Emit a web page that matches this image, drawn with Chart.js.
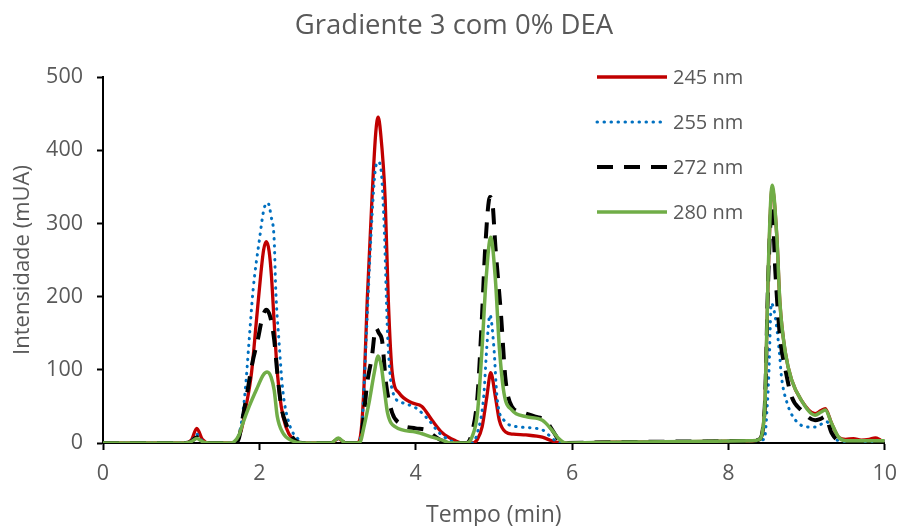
<!DOCTYPE html>
<html>
<head>
<meta charset="utf-8">
<script src="https://cdn.jsdelivr.net/npm/chart.js@4.4.1/dist/chart.umd.min.js"></script>
<style>
  html, body { margin: 0; padding: 0; background: #ffffff; }
  #wrap { width: 908px; height: 526px; }
</style>
</head>
<body>
<div id="wrap"><canvas id="chart" width="908" height="526"></canvas></div>
<script>
// Chromatogram: time (min) and absorbance (mUA) for each detection wavelength
const seriesLabels = ['245 nm', '255 nm', '272 nm', '280 nm'];

const tempo245 = [0, 1.05, 1.13, 1.2, 1.27, 1.36, 1.68, 1.72, 1.77, 1.83, 1.9, 1.96, 2.02, 2.055, 2.09, 2.125, 2.155, 2.19, 2.23, 2.28, 2.34, 2.43, 2.55,
  2.92, 3.01, 3.1, 3.25, 3.28, 3.31, 3.34, 3.38, 3.44, 3.49, 3.52, 3.55, 3.61, 3.65, 3.7, 3.79, 3.95, 4.08, 4.21, 4.34, 4.51, 4.6,
  4.72, 4.79, 4.85, 4.91, 4.96, 5.02, 5.07, 5.15, 5.25, 5.41, 5.62, 5.74, 5.85, 6.5, 7.5, 8.3,
  8.4, 8.44, 8.47, 8.51, 8.56, 8.62, 8.66, 8.73, 8.81, 8.93, 9.11, 9.18, 9.24, 9.32, 9.41, 9.5, 9.6, 9.7, 9.8, 9.88, 9.95];
const int245 = [0, 0, 4, 20, 5, 0, 0, 5, 18, 50, 96, 164, 232, 264, 275, 262, 228, 164, 96, 50, 22, 5, 0,
  0, 6, 0, 0, 3, 25, 80, 195, 332, 425, 445, 425, 332, 195, 96, 68, 55, 50, 31, 14, 3, 0,
  0, 5, 22, 63, 96, 63, 31, 15, 12, 11, 8, 3, 0, 1, 2, 3,
  5, 18, 60, 230, 348, 282, 191, 123, 86, 59, 40, 44, 47, 27, 8, 5, 6, 4, 5, 7, 4];

const tempo255 = [0, 1.05, 1.13, 1.2, 1.27, 1.36, 1.67, 1.72, 1.77, 1.82, 1.87, 1.92, 2.0, 2.06, 2.11, 2.15, 2.19, 2.21, 2.25, 2.3, 2.38, 2.5, 2.6,
  2.92, 3.01, 3.1, 3.25, 3.29, 3.32, 3.37, 3.43, 3.48, 3.52, 3.56, 3.6, 3.64, 3.7, 3.83, 4.0, 4.17, 4.3, 4.43, 4.55,
  4.72, 4.79, 4.87, 4.91, 4.95, 5.0, 5.04, 5.13, 5.32, 5.62, 5.7, 5.79, 5.9, 6.5, 7.5, 8.3,
  8.46, 8.5, 8.52, 8.55, 8.6, 8.65, 8.68, 8.75, 8.86, 9.02, 9.11, 9.26, 9.35, 9.42, 9.55, 10];
const int255 = [0, 0, 3, 12, 3, 0, 0, 5, 27, 72, 141, 209, 277, 320, 328, 310, 277, 209, 141, 72, 27, 5, 0,
  0, 6, 0, 0, 5, 36, 150, 287, 370, 384, 370, 287, 150, 72, 55, 48, 31, 14, 4, 0,
  0, 14, 63, 131, 175, 131, 63, 31, 22, 18, 11, 3, 0, 1, 2, 3,
  5, 55, 100, 191, 172, 127, 90, 55, 31, 22, 22, 29, 8, 3, 2, 2];

const tempo272 = [0, 1.05, 1.13, 1.2, 1.27, 1.36, 1.69, 1.74, 1.79, 1.85, 1.91, 1.98, 2.04, 2.09, 2.14, 2.19, 2.23, 2.28, 2.34, 2.43, 2.55,
  2.92, 3.01, 3.1, 3.25, 3.3, 3.33, 3.38, 3.44, 3.49, 3.53, 3.57, 3.62, 3.7, 3.79, 4.0, 4.13, 4.26, 4.34, 4.45,
  4.65, 4.72, 4.79, 4.85, 4.89, 4.95, 4.98, 5.02, 5.09, 5.15, 5.23, 5.36, 5.53, 5.66, 5.77, 5.83, 5.92, 6.5, 7.5, 8.3,
  8.4, 8.44, 8.47, 8.51, 8.56, 8.6, 8.66, 8.73, 8.81, 8.93, 9.11, 9.18, 9.24, 9.32, 9.42, 9.6, 10];
const int272 = [0, 0, 2, 8, 2, 0, 0, 7, 36, 72, 109, 141, 172, 182, 172, 141, 96, 50, 27, 7, 0,
  0, 5, 0, 0, 6, 31, 82, 118, 157, 150, 140, 82, 41, 27, 20, 18, 8, 3, 0,
  0, 14, 63, 177, 268, 336, 330, 268, 177, 86, 50, 42, 36, 31, 14, 4, 0, 1, 2, 3,
  5, 18, 60, 225, 325, 236, 145, 100, 63, 45, 31, 33, 36, 14, 3, 2, 2];

const tempo280 = [0, 1.05, 1.13, 1.2, 1.27, 1.36, 1.64, 1.68, 1.74, 1.79, 1.87, 1.98, 2.05, 2.1, 2.15, 2.19, 2.23, 2.3, 2.42, 2.55,
  2.92, 3.01, 3.1, 3.26, 3.3, 3.33, 3.41, 3.47, 3.52, 3.56, 3.6, 3.64, 3.74, 4.0, 4.21, 4.34, 4.45,
  4.65, 4.72, 4.79, 4.85, 4.9, 4.96, 5.02, 5.07, 5.13, 5.23, 5.41, 5.62, 5.74, 5.83, 5.92, 6.5, 7.5, 8.3,
  8.4, 8.44, 8.47, 8.51, 8.56, 8.62, 8.66, 8.73, 8.81, 8.93, 9.11, 9.18, 9.24, 9.32, 9.41, 9.5, 10];
const int280 = [0, 0, 2, 6, 2, 0, 0, 2, 11, 27, 50, 77, 93, 97, 90, 72, 36, 14, 3, 0,
  0, 7, 0, 0, 4, 18, 59, 96, 119, 105, 72, 41, 22, 15, 8, 4, 0,
  0, 8, 41, 131, 223, 281, 223, 131, 68, 45, 36, 31, 18, 6, 0, 1, 2, 3,
  5, 18, 60, 236, 352, 282, 191, 123, 86, 59, 38, 42, 45, 27, 8, 3, 3];

const xTicks = [0, 2, 4, 6, 8, 10];
const yTicks = [0, 100, 200, 300, 400, 500];

function toPoints(ts, vs) {
  return ts.map((t, i) => ({ x: t, y: vs[i] }));
}

const FONT = "'Open Sans', 'DejaVu Sans', sans-serif";
const TEXT = '#595959';

const datasets = [
  { label: seriesLabels[0], data: toPoints(tempo245, int245), borderColor: '#C00000', borderWidth: 3.3, order: 4 },
  { label: seriesLabels[1], data: toPoints(tempo255, int255), borderColor: '#0070C0', borderWidth: 3,
    borderDash: [0.5, 6.5], borderCapStyle: 'round', order: 3 },
  { label: seriesLabels[2], data: toPoints(tempo272, int272), borderColor: '#000000', borderWidth: 4,
    borderDash: [16, 11], order: 2 },
  { label: seriesLabels[3], data: toPoints(tempo280, int280), borderColor: '#70AD47', borderWidth: 3.5, order: 1 }
];

// Legend drawn inside the plot area, top right
const insideLegend = {
  id: 'insideLegend',
  afterDraw(chart) {
    const { ctx } = chart;
    const x0 = 597, x1 = 667, y0 = 77, step = 45;
    ctx.save();
    chart.data.datasets.forEach((ds, i) => {
      const y = y0 + i * step;
      ctx.beginPath();
      ctx.strokeStyle = ds.borderColor;
      ctx.lineWidth = ds.borderWidth;
      ctx.lineCap = ds.borderCapStyle || 'butt';
      ctx.setLineDash(ds.borderDash || []);
      ctx.moveTo(x0, y);
      ctx.lineTo(x1, y);
      ctx.stroke();
      ctx.setLineDash([]);
      ctx.fillStyle = TEXT;
      ctx.font = "20px " + FONT;
      ctx.textAlign = 'left';
      ctx.textBaseline = 'middle';
      ctx.fillText(ds.label, 673, y + 1);
    });
    ctx.restore();
  }
};

new Chart(document.getElementById('chart'), {
  type: 'line',
  data: { datasets },
  options: {
    responsive: false,
    animation: false,
    layout: { padding: 0 },
    elements: {
      point: { radius: 0, hoverRadius: 0 },
      line: { cubicInterpolationMode: 'monotone', fill: false }
    },
    plugins: {
      legend: { display: false },
      tooltip: { enabled: false },
      title: {
        display: true,
        text: 'Gradiente 3 com 0% DEA',
        color: TEXT,
        font: { family: FONT, size: 27.5, weight: 'normal' },
        padding: { top: 10, bottom: 34 }
      }
    },
    scales: {
      x: {
        type: 'linear',
        min: xTicks[0],
        max: xTicks[xTicks.length - 1],
        afterBuildTicks(scale) { scale.ticks = xTicks.map(v => ({ value: v })); },
        ticks: { color: TEXT, font: { family: FONT, size: 21.5 }, padding: 11, maxRotation: 0 },
        grid: { drawOnChartArea: false, drawTicks: true, tickLength: 7, tickColor: '#000', tickWidth: 2 },
        border: { color: '#000', width: 2 },
        title: { display: true, text: 'Tempo (min)', color: TEXT, font: { family: FONT, size: 23 }, padding: { top: 0, bottom: -3 } },
        afterFit(scale) { scale.height = 83; }
      },
      y: {
        type: 'linear',
        min: yTicks[0],
        max: yTicks[yTicks.length - 1],
        afterBuildTicks(scale) { scale.ticks = yTicks.map(v => ({ value: v })); },
        ticks: { color: TEXT, font: { family: FONT, size: 21.5 }, padding: 14 },
        grid: { drawOnChartArea: false, drawTicks: true, tickLength: 6, tickColor: '#000', tickWidth: 2 },
        border: { color: '#000', width: 2 },
        title: { display: true, text: 'Intensidade (mUA)', color: TEXT, font: { family: FONT, size: 22 }, padding: { top: 10, bottom: 0 } },
        afterFit(scale) { scale.width = 103; }
      },
      // empty right-hand margin so the plot ends before the canvas edge
      yRight: {
        type: 'linear',
        position: 'right',
        min: 0,
        max: 1,
        grid: { display: false },
        border: { display: false },
        ticks: { display: false },
        afterFit(scale) { scale.width = 21; }
      }
    }
  },
  plugins: [insideLegend]
});
</script>
</body>
</html>
